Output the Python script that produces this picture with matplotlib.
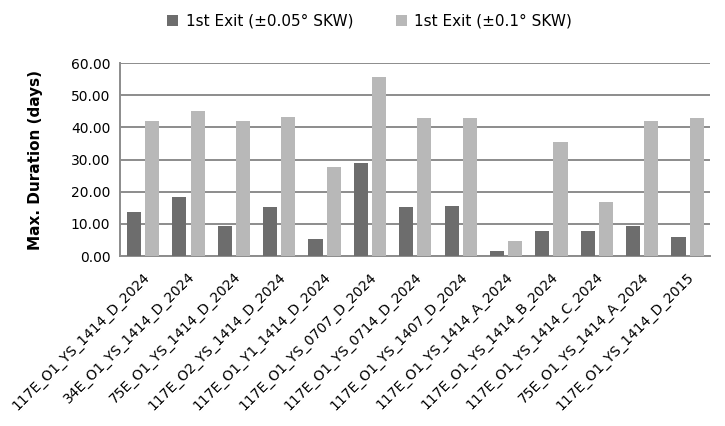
import numpy as np
import matplotlib.pyplot as plt

categories = ['117E_O1_YS_1414_D_2024', '34E_O1_YS_1414_D_2024', '75E_O1_YS_1414_D_2024',
              '117E_O2_YS_1414_D_2024', '117E_O1_Y1_1414_D_2024', '117E_O1_YS_0707_D_2024',
              '117E_O1_YS_0714_D_2024', '117E_O1_YS_1407_D_2024', '117E_O1_YS_1414_A_2024',
              '117E_O1_YS_1414_B_2024', '117E_O1_YS_1414_C_2024', '75E_O1_YS_1414_A_2024',
              '117E_O1_YS_1414_D_2015']
exit_005 = [13.7, 18.3, 9.3, 15.1, 5.4, 29.0, 15.1, 15.7, 1.5, 7.9, 7.9, 9.3, 6.0]
exit_01 = [41.9, 45.1, 41.9, 43.1, 27.7, 55.8, 43.0, 43.0, 4.8, 35.3, 16.9, 41.9, 43.0]
series_names = ['1st Exit (±0.05° SKW)', '1st Exit (±0.1° SKW)']

fig = plt.figure(figsize=(7.25, 4.26), dpi=100)
ax = fig.add_axes([0.1655, 0.399, 0.8135, 0.453])

x = np.arange(len(categories))
w = 0.31
ax.bar(x - 0.19, exit_005, w, color='#6d6d6d', label=series_names[0], zorder=3)
ax.bar(x + 0.21, exit_01, w, color='#b8b8b8', label=series_names[1], zorder=3)

ax.set_xlim(-0.5, len(categories) - 0.5)
ax.set_ylim(0, 60)
ax.set_yticks(np.arange(0, 61, 10))
ax.set_yticklabels([f'{v:.2f}' for v in np.arange(0, 61, 10)], fontsize=10)
ax.yaxis.grid(True, color='#8c8c8c', linewidth=1.4, zorder=0)
ax.tick_params(axis='y', length=0, pad=7)
ax.tick_params(axis='x', length=0, pad=10)
ax.set_xticks(x)
ax.set_xticklabels(categories, rotation=45, ha='right', rotation_mode='anchor', fontsize=10)

for s in ['top', 'right']:
    ax.spines[s].set_visible(False)
for s in ['left', 'bottom']:
    ax.spines[s].set_color('#8c8c8c')
    ax.spines[s].set_linewidth(1.4)

ax.set_ylabel('Max. Duration (days)', fontsize=11, fontweight='bold', labelpad=20)

fig.legend(loc='upper center', bbox_to_anchor=(0.51, 1.0), ncol=2, frameon=False,
           fontsize=11, handlelength=0.7, handleheight=0.7, columnspacing=2.8, handletextpad=0.5)

fig.savefig('out.png', dpi=100)
